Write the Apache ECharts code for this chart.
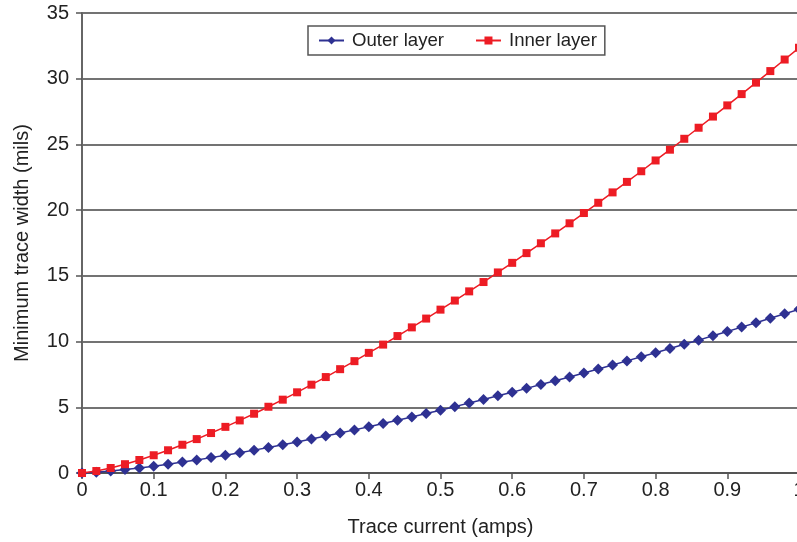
<!DOCTYPE html>
<html>
<head>
<meta charset="utf-8">
<script src="https://cdn.jsdelivr.net/npm/echarts@6/dist/echarts.min.js"></script>
<style>
  html, body { margin: 0; padding: 0; background: #fff; }
  #chart { width: 797px; height: 542px; }
</style>
</head>
<body>
<div id="chart"></div>
<script>
// Trace current in amps (x) for each sample
const currents = [
  0, 0.02, 0.04, 0.06, 0.08, 0.10, 0.12, 0.14, 0.16, 0.18,
  0.20, 0.22, 0.24, 0.26, 0.28, 0.30, 0.32, 0.34, 0.36, 0.38,
  0.40, 0.42, 0.44, 0.46, 0.48, 0.50, 0.52, 0.54, 0.56, 0.58,
  0.60, 0.62, 0.64, 0.66, 0.68, 0.70, 0.72, 0.74, 0.76, 0.78,
  0.80, 0.82, 0.84, 0.86, 0.88, 0.90, 0.92, 0.94, 0.96, 0.98, 1.00
];

// Minimum trace width (mils), outer layer
const outerLayer = [
  0, 0.06, 0.15, 0.26, 0.38, 0.52, 0.67, 0.83, 0.99, 1.17,
  1.35, 1.54, 1.74, 1.94, 2.15, 2.36, 2.58, 2.81, 3.04, 3.28,
  3.52, 3.76, 4.01, 4.26, 4.52, 4.78, 5.05, 5.32, 5.59, 5.87,
  6.15, 6.44, 6.73, 7.02, 7.31, 7.61, 7.91, 8.22, 8.53, 8.84,
  9.15, 9.47, 9.79, 10.11, 10.44, 10.77, 11.10, 11.43, 11.77, 12.11, 12.45
];

// Minimum trace width (mils), inner layer
const innerLayer = [
  0, 0.15, 0.38, 0.67, 0.99, 1.35, 1.73, 2.15, 2.58, 3.04,
  3.51, 4.00, 4.51, 5.04, 5.58, 6.14, 6.72, 7.30, 7.90, 8.51,
  9.14, 9.77, 10.42, 11.08, 11.75, 12.43, 13.12, 13.82, 14.53, 15.26,
  15.99, 16.73, 17.48, 18.23, 19.00, 19.78, 20.56, 21.35, 22.15, 22.96,
  23.78, 24.60, 25.43, 26.27, 27.12, 27.97, 28.83, 29.70, 30.58, 31.46, 32.35
];

const seriesNames = ['Outer layer', 'Inner layer'];
const xTickLabels = ['0', '0.1', '0.2', '0.3', '0.4', '0.5', '0.6', '0.7', '0.8', '0.9', '1'];

const FONT = '"Liberation Sans", Arial, Helvetica, sans-serif';
const pairs = ys => currents.map((x, i) => [x, ys[i]]);

const chart = echarts.init(document.getElementById('chart'), null, { renderer: 'canvas' });
chart.setOption({
  animation: false,
  backgroundColor: '#ffffff',
  textStyle: { fontFamily: FONT },
  grid: {
    left: 82, top: 13, width: 717, height: 460,
    containLabel: false,
    outerBoundsMode: 'none'
  },
  legend: {
    data: seriesNames,
    left: 308,
    top: 26,
    orient: 'horizontal',
    itemWidth: 25,
    itemHeight: 10,
    itemGap: 31,
    padding: [5, 8, 5, 10],
    borderColor: '#555',
    borderWidth: 1.5,
    backgroundColor: '#fff',
    textStyle: { fontFamily: FONT, fontSize: 18.6, color: '#222', padding: [0, 0, 0, 3] }
  },
  xAxis: {
    type: 'value',
    min: 0,
    max: 1,
    interval: 0.1,
    name: 'Trace current (amps)',
    nameLocation: 'middle',
    nameGap: 44,
    nameTextStyle: { fontFamily: FONT, fontSize: 20, color: '#222' },
    axisLine: { show: true, lineStyle: { color: '#555', width: 2 } },
    axisTick: { show: true, inside: false, length: 6, lineStyle: { color: '#555', width: 1.5 } },
    axisLabel: {
      fontFamily: FONT, fontSize: 20, color: '#222', margin: 7,
      formatter: v => xTickLabels[Math.round(v * 10)]
    },
    splitLine: { show: false }
  },
  yAxis: {
    type: 'value',
    min: 0,
    max: 35,
    interval: 5,
    name: 'Minimum trace width (mils)',
    nameLocation: 'middle',
    nameGap: 50,
    nameRotate: 90,
    nameTextStyle: { fontFamily: FONT, fontSize: 20, color: '#222' },
    axisLine: { show: true, lineStyle: { color: '#666', width: 2 } },
    axisTick: { show: true, inside: false, length: 6, lineStyle: { color: '#555', width: 1.5 } },
    axisLabel: { fontFamily: FONT, fontSize: 20, color: '#222', margin: 13 },
    splitLine: { show: true, lineStyle: { color: '#444', width: 1.5 } }
  },
  series: [
    {
      name: seriesNames[0],
      type: 'line',
      data: pairs(outerLayer),
      symbol: 'diamond',
      symbolSize: 11,
      showAllSymbol: true,
      color: '#2e3192',
      lineStyle: { color: '#2e3192', width: 1.5 },
      itemStyle: { color: '#2e3192' },
      z: 3
    },
    {
      name: seriesNames[1],
      type: 'line',
      data: pairs(innerLayer),
      symbol: 'rect',
      symbolSize: 8,
      showAllSymbol: true,
      color: '#ed1c24',
      lineStyle: { color: '#ed1c24', width: 1.5 },
      itemStyle: { color: '#ed1c24' },
      z: 4
    }
  ]
});
</script>
</body>
</html>
